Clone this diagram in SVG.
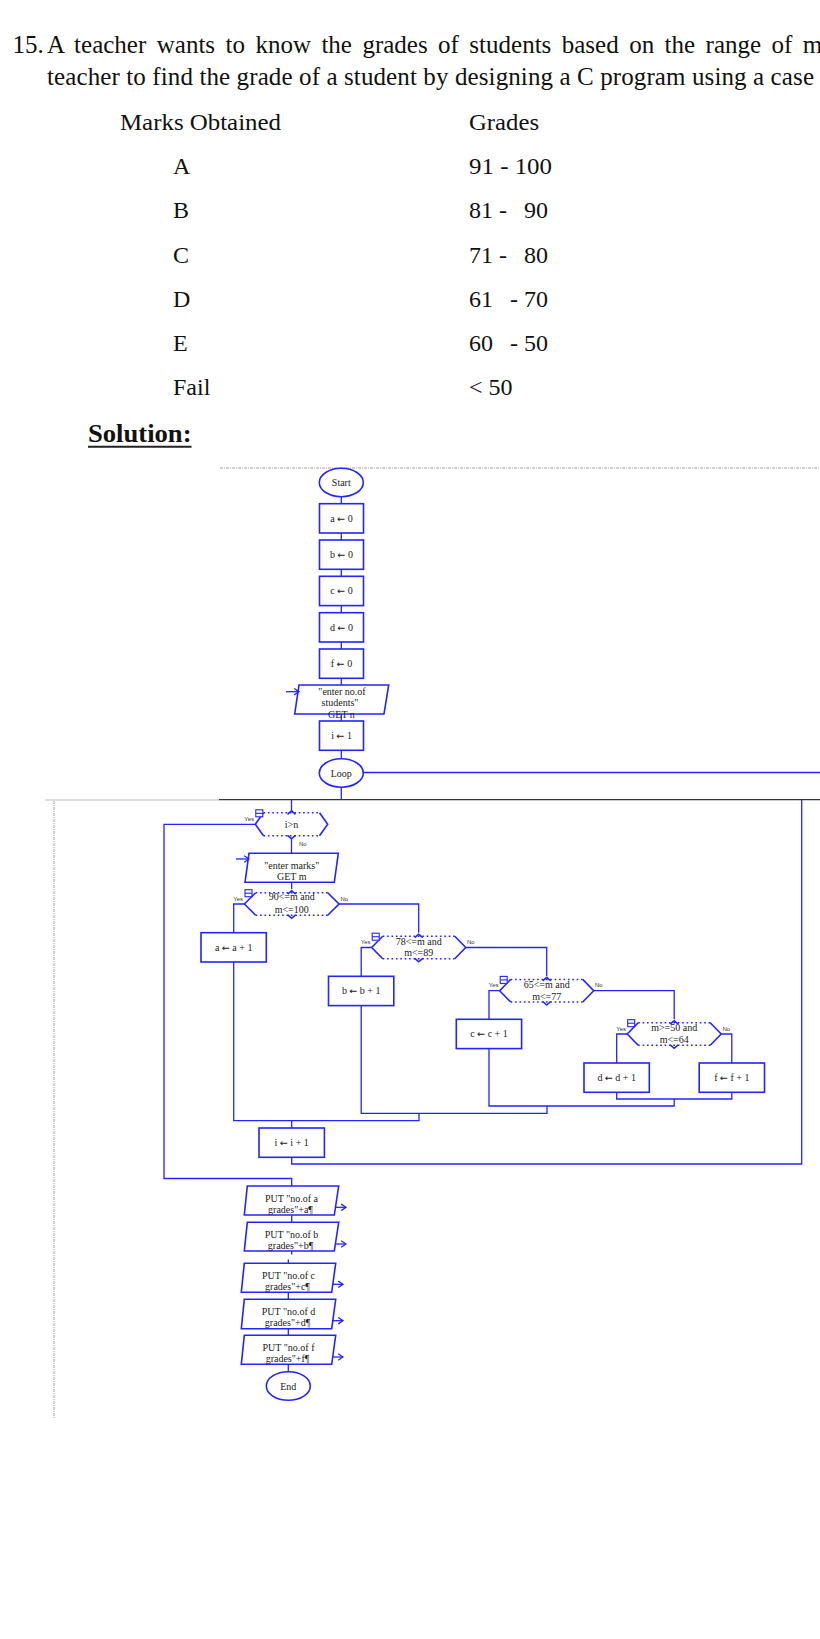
<svg xmlns="http://www.w3.org/2000/svg" width="820" height="1639" viewBox="0 0 820 1639">
<style>
.t{font-family:"Liberation Serif","Times New Roman",serif;fill:#111}
.fc{font-family:"Liberation Serif","Times New Roman",serif;font-size:10px;fill:#222;text-anchor:middle}
.ar{font-family:"DejaVu Sans",sans-serif;font-size:9.5px}
.yn{font-family:"Liberation Sans",Arial,sans-serif;font-size:6px;fill:#333}
.sh{fill:none;stroke:#2424ff;stroke-width:1.6}
.dot{fill:none;stroke:#2424ff;stroke-width:1.5;stroke-dasharray:1.6 2.8}
.cn{fill:none;stroke:#2424ff;stroke-width:1.3}
.ic{fill:#fff;stroke:#2424ff;stroke-width:1.1}
.pg{fill:none;stroke:#999;stroke-width:0.9;stroke-dasharray:3 1 1 1}
</style>
<defs>
<marker id="op" viewBox="0 0 10 10" refX="9" refY="5" markerWidth="8" markerHeight="8" markerUnits="userSpaceOnUse" orient="auto">
<path d="M3,1 L9,5 L3,9" fill="none" stroke="#2424ff" stroke-width="1.6"/>
</marker>
</defs>
<rect width="820" height="1639" fill="#fff"/>

<g id="question">
<text class="t" x="12.5" y="53" font-size="25">15.</text>
<text class="t" x="47" y="53" font-size="25" word-spacing="4.2">A teacher wants to know the grades of students based on the range of m</text>
<text class="t" x="47" y="84.5" font-size="25" textLength="767" lengthAdjust="spacing">teacher to find the grade of a student by designing a C program using a case</text>
</g>

<g id="table" class="t" font-size="24">
<text x="120" y="130" textLength="161" lengthAdjust="spacingAndGlyphs">Marks Obtained</text>
<text x="469" y="130" textLength="70" lengthAdjust="spacingAndGlyphs">Grades</text>
<text x="173" y="174">A</text>
<text x="469" y="174" textLength="83" lengthAdjust="spacingAndGlyphs">91 - 100</text>
<text x="173" y="218.3">B</text>
<text x="469" y="218.3">81 -<tspan x="524">90</tspan></text>
<text x="173" y="262.7">C</text>
<text x="469" y="262.7">71 -<tspan x="524">80</tspan></text>
<text x="173" y="307">D</text>
<text x="469" y="307">61<tspan x="510">- 70</tspan></text>
<text x="173" y="351">E</text>
<text x="469" y="351">60<tspan x="510">- 50</tspan></text>
<text x="173" y="395.3">Fail</text>
<text x="469" y="395.3">&lt; 50</text>
</g>

<g id="solution">
<text class="t" x="88" y="441.7" font-size="26" font-weight="bold" textLength="103.5" lengthAdjust="spacingAndGlyphs">Solution:</text>
<line x1="88" y1="446.8" x2="191.5" y2="446.8" stroke="#222" stroke-width="2"/>
</g>

<g id="page-lines">
<line class="pg" x1="220" y1="468" x2="820" y2="468"/>
<line x1="45" y1="800" x2="219" y2="800" stroke="#bbb" stroke-width="1"/>
<line x1="219" y1="799.7" x2="820" y2="799.7" stroke="#333" stroke-width="1.2"/>
<line class="pg" x1="54" y1="801" x2="54" y2="1418"/>
</g>

<g id="connectors">
<path class="cn" d="M341.3,496.7V503.7M341.3,533V540M341.3,569.3V576.3M341.3,605.7V612.7M341.3,642V649M341.3,678V685M341.3,714V721M341.3,750V759"/>
<path class="cn" d="M341.3,787V799.7"/>
<path class="cn" d="M363.3,772.5H820"/>
<path class="cn" d="M291.5,800V811"/>
<path class="cn" d="M255.3,824.3H164V1178.5H291.7V1186"/>
<path class="cn" d="M291.5,838.8V853.3"/>
<path class="cn" d="M291.7,882.3V889.2"/>
<path class="cn" d="M244.4,904H233.7V932.7"/>
<path class="cn" d="M339,904H418.7V932.7"/>
<path class="cn" d="M371.7,947.5H361.2V976.3"/>
<path class="cn" d="M465.7,947.5H546.7V975.9"/>
<path class="cn" d="M499.7,990.7H489V1019.3"/>
<path class="cn" d="M593.7,990.7H674.2V1019.2"/>
<path class="cn" d="M627.2,1034H616.7V1063"/>
<path class="cn" d="M721.2,1034H731.8V1063"/>
<path class="cn" d="M616.7,1092.3V1099H731.8V1092.3"/>
<path class="cn" d="M674.2,1099V1106H489V1048.7"/>
<path class="cn" d="M547,1106V1113.3H361.2V1005.7"/>
<path class="cn" d="M419,1113.3V1120.7H233.7V962"/>
<path class="cn" d="M291.7,1120.7V1128"/>
<path class="cn" d="M291.7,1157.3V1164H801.7V800"/>
<path class="cn" d="M291.7,1215V1222.3M291.7,1251V1254.5M288.3,1259.5V1263.3M288.3,1292.3V1299.3M288.3,1328.7V1335.3M288.3,1364.3V1371.7"/>
<path class="cn" d="M286,691.7H299" marker-end="url(#op)"/>
<path class="cn" d="M236,859H249" marker-end="url(#op)"/>
<path class="cn" d="M335.7,1207.3H346" marker-end="url(#op)"/>
<path class="cn" d="M335.7,1244H346" marker-end="url(#op)"/>
<path class="cn" d="M332.3,1284.3H343" marker-end="url(#op)"/>
<path class="cn" d="M332.3,1320.7H343" marker-end="url(#op)"/>
<path class="cn" d="M332.3,1357H343" marker-end="url(#op)"/>
</g>

<g id="start"><ellipse class="sh" cx="341.3" cy="482.5" rx="22" ry="14.2"/><text class="fc" x="341.3" y="486">Start</text></g>
<g id="a0"><rect class="sh" x="319.5" y="503.7" width="44" height="29.3"/><text class="fc" x="341.5" y="521.8">a <tspan class="ar">←</tspan> 0</text></g>
<g id="b0"><rect class="sh" x="319.5" y="540" width="44" height="29.3"/><text class="fc" x="341.5" y="558.1">b <tspan class="ar">←</tspan> 0</text></g>
<g id="c0"><rect class="sh" x="319.5" y="576.3" width="44" height="29.3"/><text class="fc" x="341.5" y="594.4">c <tspan class="ar">←</tspan> 0</text></g>
<g id="d0"><rect class="sh" x="319.5" y="612.7" width="44" height="29.3"/><text class="fc" x="341.5" y="630.8">d <tspan class="ar">←</tspan> 0</text></g>
<g id="f0"><rect class="sh" x="319.5" y="649" width="44" height="29.3"/><text class="fc" x="341.5" y="667.1">f <tspan class="ar">←</tspan> 0</text></g>
<g id="get-n"><polygon class="sh" points="299,685 388.7,685 384,714 294.7,714"/>
<text class="fc" x="342" y="694.5">"enter no.of</text><text class="fc" x="340" y="706">students"</text><text class="fc" x="341.5" y="717.5">GET n</text></g>
<g id="i1"><rect class="sh" x="319.5" y="721" width="44" height="29.3"/><text class="fc" x="341.5" y="739.1">i <tspan class="ar">←</tspan> 1</text></g>
<g id="loop"><ellipse class="sh" cx="341.3" cy="773" rx="22" ry="14.2"/><text class="fc" x="341.3" y="776.5">Loop</text></g>

<g id="dec-in">
<polyline class="sh" points="263.5,812.8 255.3,824.3 263.5,835.8"/><polyline class="sh" points="319.5,812.8 327.7,824.3 319.5,835.8"/>
<line class="dot" x1="263.5" y1="812.8" x2="319.5" y2="812.8"/><line class="dot" x1="263.5" y1="835.8" x2="319.5" y2="835.8"/>
<polyline class="sh" points="287.5,814.3 291.5,810.8 295.5,814.3"/><polyline class="sh" points="287.5,835.3 291.5,838.8 295.5,835.3"/>
<rect class="ic" x="255.8" y="809.8" width="7" height="7"/><line class="ic" x1="255.8" y1="813.3" x2="262.8" y2="813.3"/>
<text class="fc" x="291.5" y="827.8">i&gt;n</text>
<text class="yn" x="254" y="821" text-anchor="end">Yes</text><text class="yn" x="299" y="846">No</text>
</g>

<g id="get-m"><polygon class="sh" points="249,853.3 338.3,853.3 334.3,882.3 245,882.3"/>
<text class="fc" x="291.7" y="868.8">"enter marks"</text><text class="fc" x="291.7" y="880">GET m</text></g>

<g id="dec-a">
<polyline class="sh" points="255.7,892.7 244.4,904 255.7,915.3"/><polyline class="sh" points="327.7,892.7 339,904 327.7,915.3"/>
<line class="dot" x1="255.7" y1="892.7" x2="327.7" y2="892.7"/><line class="dot" x1="255.7" y1="915.3" x2="327.7" y2="915.3"/>
<polyline class="sh" points="287.7,894.2 291.7,890.7 295.7,894.2"/><polyline class="sh" points="287.7,914.8 291.7,918.3 295.7,914.8"/>
<rect class="ic" x="245" y="889.7" width="7" height="7"/><line class="ic" x1="245" y1="893.2" x2="252" y2="893.2"/>
<text class="fc" x="291.7" y="900.2">90&lt;=m and</text><text class="fc" x="291.7" y="912.8">m&lt;=100</text>
<text class="yn" x="243" y="900.5" text-anchor="end">Yes</text><text class="yn" x="340.5" y="900.5">No</text>
</g>
<g id="inc-a"><rect class="sh" x="201" y="932.7" width="65.3" height="29.3"/><text class="fc" x="233.7" y="950.8">a <tspan class="ar">←</tspan> a + 1</text></g>

<g id="dec-b">
<polyline class="sh" points="382.7,936.2 371.7,947.5 382.7,958.8"/><polyline class="sh" points="454.7,936.2 465.7,947.5 454.7,958.8"/>
<line class="dot" x1="382.7" y1="936.2" x2="454.7" y2="936.2"/><line class="dot" x1="382.7" y1="958.8" x2="454.7" y2="958.8"/>
<polyline class="sh" points="414.7,937.7 418.7,934.2 422.7,937.7"/><polyline class="sh" points="414.7,958.3 418.7,961.8 422.7,958.3"/>
<rect class="ic" x="372.2" y="933.2" width="7" height="7"/><line class="ic" x1="372.2" y1="936.7" x2="379.2" y2="936.7"/>
<text class="fc" x="418.7" y="944.5">78&lt;=m and</text><text class="fc" x="418.7" y="956.2">m&lt;=89</text>
<text class="yn" x="370.5" y="944" text-anchor="end">Yes</text><text class="yn" x="467" y="944">No</text>
</g>
<g id="inc-b"><rect class="sh" x="328.5" y="976.3" width="65.3" height="29.3"/><text class="fc" x="361.2" y="994.4">b <tspan class="ar">←</tspan> b + 1</text></g>

<g id="dec-c">
<polyline class="sh" points="510.7,979.4 499.7,990.7 510.7,1002"/><polyline class="sh" points="582.7,979.4 593.7,990.7 582.7,1002"/>
<line class="dot" x1="510.7" y1="979.4" x2="582.7" y2="979.4"/><line class="dot" x1="510.7" y1="1002" x2="582.7" y2="1002"/>
<polyline class="sh" points="542.7,980.9 546.7,977.4 550.7,980.9"/><polyline class="sh" points="542.7,1001.5 546.7,1005 550.7,1001.5"/>
<rect class="ic" x="500.2" y="976.4" width="7" height="7"/><line class="ic" x1="500.2" y1="979.9" x2="507.2" y2="979.9"/>
<text class="fc" x="546.7" y="988.2">65&lt;=m and</text><text class="fc" x="546.7" y="999.8">m&lt;=77</text>
<text class="yn" x="498.5" y="987.2" text-anchor="end">Yes</text><text class="yn" x="595" y="987.2">No</text>
</g>
<g id="inc-c"><rect class="sh" x="456.3" y="1019.3" width="65.3" height="29.3"/><text class="fc" x="489" y="1037.4">c <tspan class="ar">←</tspan> c + 1</text></g>

<g id="dec-d">
<polyline class="sh" points="638.2,1022.7 627.2,1034 638.2,1045.3"/><polyline class="sh" points="710.2,1022.7 721.2,1034 710.2,1045.3"/>
<line class="dot" x1="638.2" y1="1022.7" x2="710.2" y2="1022.7"/><line class="dot" x1="638.2" y1="1045.3" x2="710.2" y2="1045.3"/>
<polyline class="sh" points="670.2,1024.2 674.2,1020.7 678.2,1024.2"/><polyline class="sh" points="670.2,1044.8 674.2,1048.3 678.2,1044.8"/>
<rect class="ic" x="627.7" y="1019.7" width="7" height="7"/><line class="ic" x1="627.7" y1="1023.2" x2="634.7" y2="1023.2"/>
<text class="fc" x="674.2" y="1031.2">m&gt;=50 and</text><text class="fc" x="674.2" y="1042.5">m&lt;=64</text>
<text class="yn" x="626" y="1030.5" text-anchor="end">Yes</text><text class="yn" x="722.5" y="1030.5">No</text>
</g>
<g id="inc-d"><rect class="sh" x="584" y="1063" width="65.3" height="29.3"/><text class="fc" x="616.7" y="1081.1">d <tspan class="ar">←</tspan> d + 1</text></g>
<g id="inc-f"><rect class="sh" x="699.2" y="1063" width="65.3" height="29.3"/><text class="fc" x="731.8" y="1081.1">f <tspan class="ar">←</tspan> f + 1</text></g>

<g id="inc-i"><rect class="sh" x="259" y="1128" width="65.4" height="29.3"/><text class="fc" x="291.7" y="1146.1">i <tspan class="ar">←</tspan> i + 1</text></g>

<g id="put-a"><polygon class="sh" points="247.3,1186 338.7,1186 334.3,1215 244.3,1215"/>
<text class="fc" x="291.5" y="1201.5">PUT "no.of a</text><text class="fc" x="290.5" y="1212.8">grades"+a¶</text></g>
<g id="put-b"><polygon class="sh" points="247.3,1222.3 338.7,1222.3 334.3,1251 244.3,1251"/>
<text class="fc" x="291.5" y="1237.8">PUT "no.of b</text><text class="fc" x="290.5" y="1249.3">grades"+b¶</text></g>
<g id="put-c"><polygon class="sh" points="244.3,1263.3 335.7,1263.3 331.7,1292.3 241.3,1292.3"/>
<text class="fc" x="288.5" y="1278.5">PUT "no.of c</text><text class="fc" x="287.5" y="1290">grades"+c¶</text></g>
<g id="put-d"><polygon class="sh" points="244.3,1299.3 335.7,1299.3 331.7,1328.7 241.3,1328.7"/>
<text class="fc" x="288.5" y="1314.5">PUT "no.of d</text><text class="fc" x="287.5" y="1326">grades"+d¶</text></g>
<g id="put-f"><polygon class="sh" points="244.3,1335.3 335.7,1335.3 331.7,1364.3 241.3,1364.3"/>
<text class="fc" x="288.5" y="1350.8">PUT "no.of f</text><text class="fc" x="287.5" y="1362.2">grades"+f¶</text></g>
<g id="end"><ellipse class="sh" cx="288.3" cy="1386" rx="22" ry="14.3"/><text class="fc" x="288.3" y="1389.5">End</text></g>
</svg>
